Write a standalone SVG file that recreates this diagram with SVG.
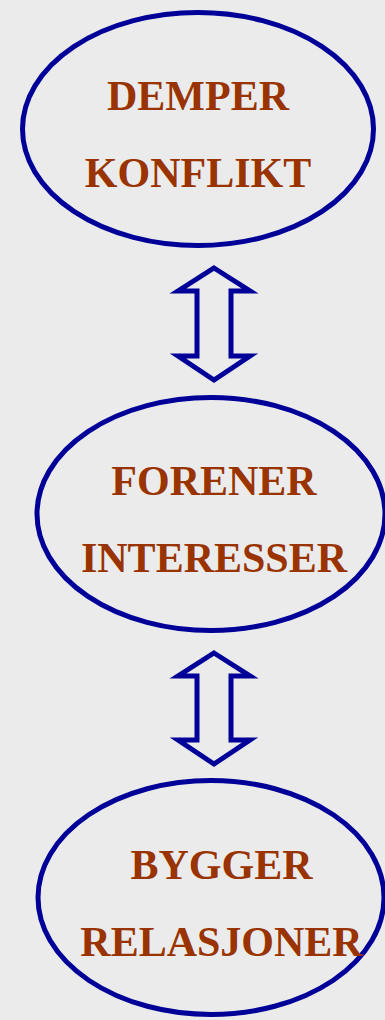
<svg xmlns="http://www.w3.org/2000/svg" width="385" height="1020" viewBox="0 0 385 1020">
<style>
.bg{fill:#ebebeb}
.node ellipse{fill:none;stroke:#000099;stroke-width:5}
.node text{font-family:"Liberation Serif","Times New Roman",serif;font-weight:bold;font-size:42px;fill:#993300;text-anchor:middle}
.conn path{fill:none;stroke:#000099;stroke-width:5;stroke-linejoin:miter}
</style>
<rect class="bg" x="0" y="0" width="385" height="1020"/>
<g id="node-demper" class="node">
<ellipse cx="198" cy="129" rx="175.5" ry="116.5"/>
<text x="198" y="110">DEMPER</text>
<text x="198" y="187">KONFLIKT</text>
</g>
<g id="node-forener" class="node">
<ellipse cx="211" cy="514" rx="174" ry="116.5"/>
<text x="214" y="495">FORENER</text>
<text x="214" y="572">INTERESSER</text>
</g>
<g id="node-bygger" class="node">
<ellipse cx="211" cy="897.5" rx="173" ry="117"/>
<text x="221.5" y="879">BYGGER</text>
<text x="221.5" y="956">RELASJONER</text>
</g>
<g id="connectors" class="conn">
<path d="M214,268 L250,291 L231,291 L231,356 L250,356 L214,380 L178,356 L197,356 L197,291 L178,291 Z"/>
<path d="M214,653 L250,676 L231,676 L231,740 L250,740 L214,764 L178,740 L197,740 L197,676 L178,676 Z"/>
</g>
</svg>
